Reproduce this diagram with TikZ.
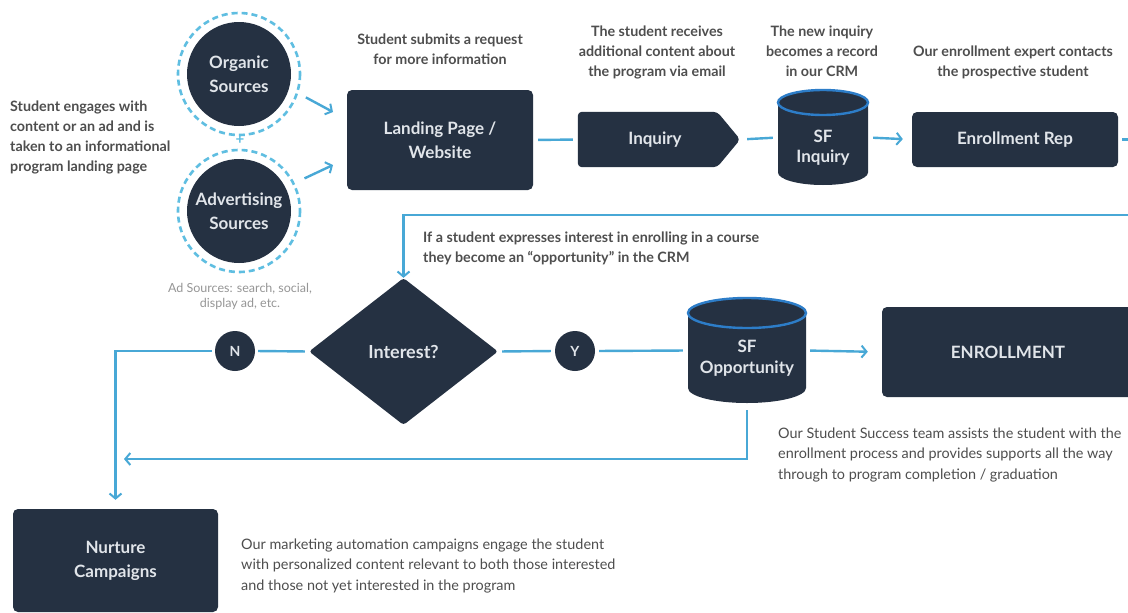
\documentclass[tikz,border=0pt]{standalone}
\usepackage{fontspec}
\setmainfont{Lato}
\usetikzlibrary{arrows.meta,shapes.geometric}

\definecolor{navy}{RGB}{37,49,66}
\definecolor{flow}{RGB}{72,168,214}
\definecolor{ringc}{RGB}{95,190,225}
\definecolor{rimc}{RGB}{45,125,200}
\definecolor{notec}{RGB}{78,78,78}
\definecolor{faint}{RGB}{150,150,150}
\definecolor{labelc}{RGB}{225,229,234}

\tikzset{
  box/.style={rectangle, rounded corners=5pt, fill=navy, text=labelc,
    font=\fontsize{17}{24}\selectfont\bfseries, align=center, inner sep=0pt},
  src/.style={circle, fill=navy, minimum size=104pt, inner sep=0pt, text=labelc,
    font=\fontsize{17}{24}\selectfont\bfseries, align=center},
  yn/.style={circle, fill=navy, minimum size=40pt, inner sep=0pt, text=labelc,
    font=\fontsize{14}{16}\selectfont\bfseries},
  drumlabel/.style={text=labelc, font=\fontsize{17}{20}\selectfont\bfseries, align=center, inner sep=0pt},
  ring/.style={draw=ringc, line width=2.6pt, dash pattern=on 6pt off 4pt},
  flowline/.style={draw=flow, line width=2.4pt},
  flowarrow/.style={flowline, -{Straight Barb[length=5pt,width=12pt,line width=2pt]}},
  note/.style={text=notec, font=\fontsize{14.3}{20}\selectfont\bfseries, align=center, inner sep=0pt},
  plainnote/.style={text=notec, font=\fontsize{14.4}{20.5}\selectfont, align=left, inner sep=0pt, anchor=west},
}

% database drum: centre x, top y, x radius, y radius, bottom y
\newcommand\dbdrum[5]{%
  \fill[navy] (#1-#3,#2+#4) -- (#1-#3,#5-#4)
    arc[start angle=180, end angle=0, x radius=#3, y radius=#4]
    -- (#1+#3,#2+#4) -- cycle;
  \draw[rimc, line width=2.4pt, fill=navy] (#1,#2+#4) ellipse[x radius=#3, y radius=#4];
}

\begin{document}
\begin{tikzpicture}[x=1pt,y=-1pt]
\clip (0,0) rectangle (1128,613);
\fill[white] (0,0) rectangle (1128,613);

% traffic sources
\node[src] (org) at (239,74) {Organic\\Sources};
\node[src] (adv) at (239,211) {Advertising\\Sources};
\draw[ring] (org) circle[radius=61];
\draw[ring] (adv) circle[radius=61];
\node[text=ringc, font=\fontsize{15}{15}\selectfont\bfseries, inner sep=0pt] (plus) at (240,140) {+};
\node[text=faint, font=\fontsize{12.5}{15}\selectfont, align=center, inner sep=0pt] (tad) at (240,296)
  {Ad Sources: search, social,\\display ad, etc.};
\node[note, align=left, anchor=west] (tleft) at (10,137)
  {Student engages with\\content or an ad and is\\taken to an informational\\program landing page};

% top row
\node[box, minimum width=186, minimum height=100] (land) at (440,140) {Landing Page /\\Website};
\node[note] (tland) at (440,49) {Student submits a request\\for more information};

% inquiry: a box with a pointed right end
\node[minimum width=162, minimum height=55, inner sep=0pt] (inq) at (659,139.5) {};
\fill[navy, rounded corners=4pt] (inq.north west) -- ([xshift=-23pt]inq.north east)
  -- (inq.east) -- ([xshift=-23pt]inq.south east) -- (inq.south west) -- cycle;
\node[text=labelc, font=\fontsize{17}{20}\selectfont\bfseries, inner sep=0pt] (inqlab) at (655,139.5) {Inquiry};
\node[note] (tinq) at (657,52) {The student receives\\additional content about\\the program via email};

\dbdrum{823}{90}{45}{12.5}{185}
\node[minimum width=90, minimum height=95, inner sep=0pt] (sfi) at (823,137.5) {};
\node[drumlabel] (sfilab) at (823,148) {SF\\Inquiry};
\node[note] (tsfi) at (822,51.5) {The new inquiry\\becomes a record\\in our CRM};

\node[box, minimum width=206, minimum height=55] (rep) at (1015,139.5) {Enrollment Rep};
\node[note] (trep) at (1013,62) {Our enrollment expert contacts\\the prospective student};

% decision row
\node[shape=diamond, fill=navy, minimum width=189, minimum height=147, inner sep=0pt,
  rounded corners=3pt, text=labelc, font=\fontsize{18}{20}\selectfont\bfseries] (dia) at (403.5,351.5) {Interest?};
\node[note, align=left, anchor=west] (topp) at (423,248)
  {If a student expresses interest in enrolling in a course\\they become an ``opportunity'' in the CRM};
\node[yn] (nn) at (235,351) {N};
\node[yn] (yy) at (575,351) {Y};

\dbdrum{747}{298}{59}{15}{403}
\node[minimum width=118, minimum height=105, inner sep=0pt] (sfo) at (747,350.5) {};
\node[drumlabel, font=\fontsize{17}{21}\selectfont\bfseries] (sfolab) at (747,358.5) {SF\\Opportunity};

\node[box, minimum width=252, minimum height=90] (enr) at (1008,352) {ENROLLMENT};
\node[plainnote] (tenr) at (778,455)
  {Our Student Success team assists the student with the\\enrollment process and provides supports all the way\\through to program completion / graduation};

% nurture
\node[box, minimum width=205, minimum height=103] (nur) at (115.5,560.5) {Nurture\\Campaigns};
\node[plainnote] (tnur) at (241,566)
  {Our marketing automation campaigns engage the student\\with personalized content relevant to both those interested\\and those not yet interested in the program};

% connectors
\coordinate (a1) at (333,112);
\coordinate (a2) at (333,165);
\draw[flowarrow, shorten <=19pt] (org.-16) -- (a1);
\draw[flowarrow, shorten <=21pt] (adv.27) -- (a2);

\draw[flowline, shorten <=5pt, shorten >=5pt] (land.east) -- (inq.west);
\draw[flowline, shorten <=7pt, shorten >=5pt] (inq.east) -- (sfi.west);
\draw[flowarrow, shorten <=5pt, shorten >=9pt] (sfi.east) -- (rep.west);

\coordinate (loopR) at (1160,215);
\draw[flowarrow, shorten <=4pt] (rep.east) -| (loopR) -| (dia.north);

\draw[flowline, shorten <=4pt, shorten >=3pt] (dia.west) -- (nn.east);
\draw[flowarrow, shorten <=3pt, shorten >=9pt] (nn.west) -| (nur.north);
\draw[flowline, shorten <=4pt, shorten >=4pt] (dia.east) -- (yy.west);
\draw[flowline, shorten <=4pt, shorten >=5pt] (yy.east) -- (sfo.west);
\draw[flowarrow, shorten <=4pt, shorten >=14pt] (sfo.east) -- (enr.west);

\coordinate (back) at (124,459);
\draw[flowarrow, shorten <=7pt] (sfo.south) |- (back);
\end{tikzpicture}
\end{document}
